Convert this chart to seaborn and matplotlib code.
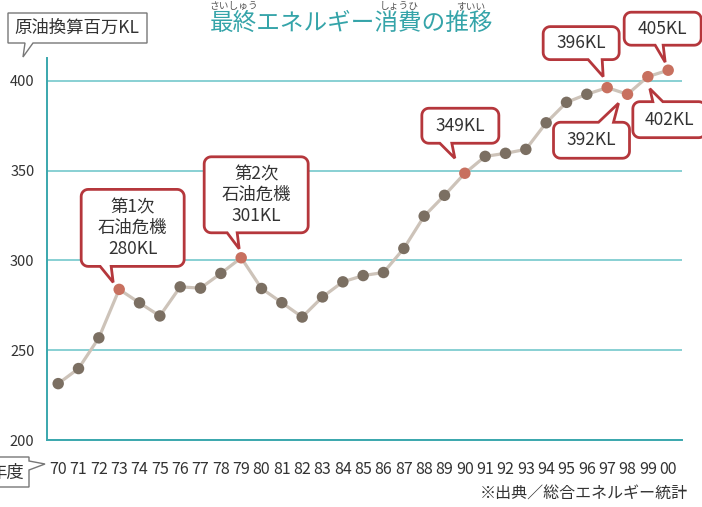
import numpy as np
import pandas as pd
import matplotlib
matplotlib.use('Agg')
import matplotlib.pyplot as plt
from matplotlib.patches import Polygon
from matplotlib import font_manager
import seaborn as sns

# データ（年度と最終エネルギー消費、原油換算百万KL）
years = ['70', '71', '72', '73', '74', '75', '76', '77', '78', '79',
         '80', '81', '82', '83', '84', '85', '86', '87', '88', '89',
         '90', '91', '92', '93', '94', '95', '96', '97', '98', '99', '00']
energy = [231.4, 239.8, 256.9, 283.9, 276.4, 269.1, 285.3, 284.6, 292.8, 301.5,
          284.4, 276.5, 268.5, 279.7, 288.1, 291.6, 293.3, 306.7, 324.7, 336.3,
          348.6, 358.0, 359.7, 361.9, 376.7, 388.1, 392.6, 396.3, 392.6, 402.4, 406.0]
highlight_years = ['73', '79', '90', '97', '98', '99', '00']
callout_texts = ['第1次\n石油危機\n280KL', '第2次\n石油危機\n301KL', '349KL',
                 '396KL', '392KL', '402KL', '405KL']
y_ticks = [200, 250, 300, 350, 400]

W, H = 702, 507
TEAL = '#3aa7ad'
GRID = '#7fcdd0'
RED = '#b5373c'

sns.set_style('white')
plt.rcParams['font.family'] = ['Noto Sans CJK JP', 'DejaVu Sans']

names = {f.name for f in font_manager.fontManager.ttflist}
narrow = 'Liberation Sans Narrow' if 'Liberation Sans Narrow' in names else 'Noto Sans CJK JP'

df = pd.DataFrame({'year': years, 'energy': energy})
df['pos'] = np.arange(len(df))
df['kind'] = np.where(df['year'].isin(highlight_years), 'hi', 'normal')

fig = plt.figure(figsize=(W / 100, H / 100), dpi=100)
ax = fig.add_axes([47 / W, 67 / H, 635 / W, 382 / H])

sns.lineplot(data=df, x='pos', y='energy', color='#cdc3b9', lw=2.3, ax=ax, zorder=2)
sns.scatterplot(data=df, x='pos', y='energy', hue='kind',
                palette={'normal': '#7b6f62', 'hi': '#c8705f'},
                s=68, edgecolor='none', legend=False, ax=ax, zorder=3)

ax.set_xlim(-0.55, 30.68)
ax.set_ylim(200, 412.8)
ax.set_xticks(df['pos'])
ax.set_xticklabels(years, fontfamily=narrow, fontsize=11.5, color='#333333')
ax.set_xticks(np.arange(0.5, 31, 1), minor=True)
ax.tick_params(axis='x', which='major', length=0, pad=15)
ax.tick_params(axis='x', which='minor', direction='in', length=4, width=1, color=TEAL)
ax.set_yticks(y_ticks)
ax.set_yticklabels([str(v) for v in y_ticks], fontsize=10.5, color='#333333')
ax.tick_params(axis='y', length=0, pad=9)
ax.yaxis.grid(True, color=GRID, lw=1.3)
ax.xaxis.grid(False)
ax.set_xlabel('')
ax.set_ylabel('')
for side in ['top', 'right']:
    ax.spines[side].set_visible(False)
for side in ['left', 'bottom']:
    ax.spines[side].set_color(TEAL)
    ax.spines[side].set_linewidth(1.4)


def to_fig(x, y):
    return (x / W, 1 - y / H)


def bubble(x0, y0, x1, y1, r, side, b0, b1, tip):
    """吹き出しの頂点（ピクセル、上が原点）"""
    pts = []

    def arc(cx, cy, a0, a1):
        if r == 0:
            return [(cx, cy)]
        a = np.radians(np.linspace(a0, a1, 8))
        return list(zip(cx + r * np.cos(a), cy + r * np.sin(a)))

    pts += arc(x0 + r, y0 + r, 180, 270)
    if side == 'top':
        pts += [(b0, y0), tip, (b1, y0)]
    pts += arc(x1 - r, y0 + r, 270, 360)
    if side == 'right':
        pts += [(x1, b0), tip, (x1, b1)]
    pts += arc(x1 - r, y1 - r, 0, 90)
    if side == 'bottom':
        pts += [(b1, y1), tip, (b0, y1)]
    pts += arc(x0 + r, y1 - r, 90, 180)
    return [to_fig(px, py) for px, py in pts]


def draw_bubble(x0, y0, x1, y1, r, side, b0, b1, tip, ec, lw):
    poly = Polygon(bubble(x0, y0, x1, y1, r, side, b0, b1, tip), closed=True,
                   facecolor='white', edgecolor=ec, lw=lw, joinstyle='miter',
                   transform=fig.transFigure, zorder=5)
    fig.add_artist(poly)


# 吹き出し: (先端オフセット, 箱(先端基準), 辺, 付け根)
callout_layout = [
    ((-6, -7), (-32, -93, 71, -16), 'bottom', (-13, -2)),
    ((-2, -9), (-35, -92, 69, -16), 'bottom', (-12, -2)),
    ((-10, -15), (-33, -50, 44, -15), 'bottom', (-15, -3)),
    ((-4, -11), (-60, -50, 16, -17), 'bottom', (-15, -1)),
    ((-9, 9), (-65, 19, 11, 55), 'top', (-20, -5)),
    ((2, 12), (-17, 13, 56, 49), 'top', (3, 13)),
    ((-3, -8), (-41, -50, 36, -17), 'bottom', (-10, -2)),
]

fig.canvas.draw()
hi = df[df['kind'] == 'hi'].reset_index(drop=True)
for i, row in hi.iterrows():
    dx, dy = ax.transData.transform((row['pos'], row['energy']))
    px, py = dx, H - dy
    (ox, oy), (bx0, by0, bx1, by1), side, (b0, b1) = callout_layout[i]
    tx, ty = px + ox, py + oy
    draw_bubble(tx + bx0, ty + by0, tx + bx1, ty + by1, 7, side,
                tx + b0, tx + b1, (tx, ty), RED, 2.0)
    cx, cy = to_fig(tx + (bx0 + bx1) / 2, ty + (by0 + by1) / 2)
    fig.text(cx, cy, callout_texts[i], ha='center', va='center', fontsize=12.5,
             color='#333333', linespacing=1.2, zorder=6)

# 単位ラベル
draw_bubble(8, 13, 147, 43, 0, 'bottom', 25, 33, (23, 57), '#777777', 1.0)
fig.text(*to_fig(77, 28), '原油換算百万KL', ha='center', va='center',
         fontsize=12.5, color='#333333', zorder=6)

# 年度ラベル
draw_bubble(-10, 457, 29, 487, 0, 'right', 461, 470, (45, 464), '#777777', 1.0)
fig.text(*to_fig(6, 473), '年度', ha='center', va='center',
         fontsize=12.5, color='#333333', zorder=6)

# タイトルとふりがな
fig.text(*to_fig(352, 23), '最終エネルギー消費の推移', ha='center', va='center',
         fontsize=17, color='#35a4a9')
for txt, x in [('さいしゅう', 234), ('しょうひ', 399), ('すいい', 471)]:
    fig.text(*to_fig(x, 6), txt, ha='center', va='center', fontsize=7, color='#555555')

# 出典
fig.text(*to_fig(688, 494), '※出典／総合エネルギー統計', ha='right', va='center',
         fontsize=11.5, color='#333333')

fig.savefig('out.png', dpi=100)
